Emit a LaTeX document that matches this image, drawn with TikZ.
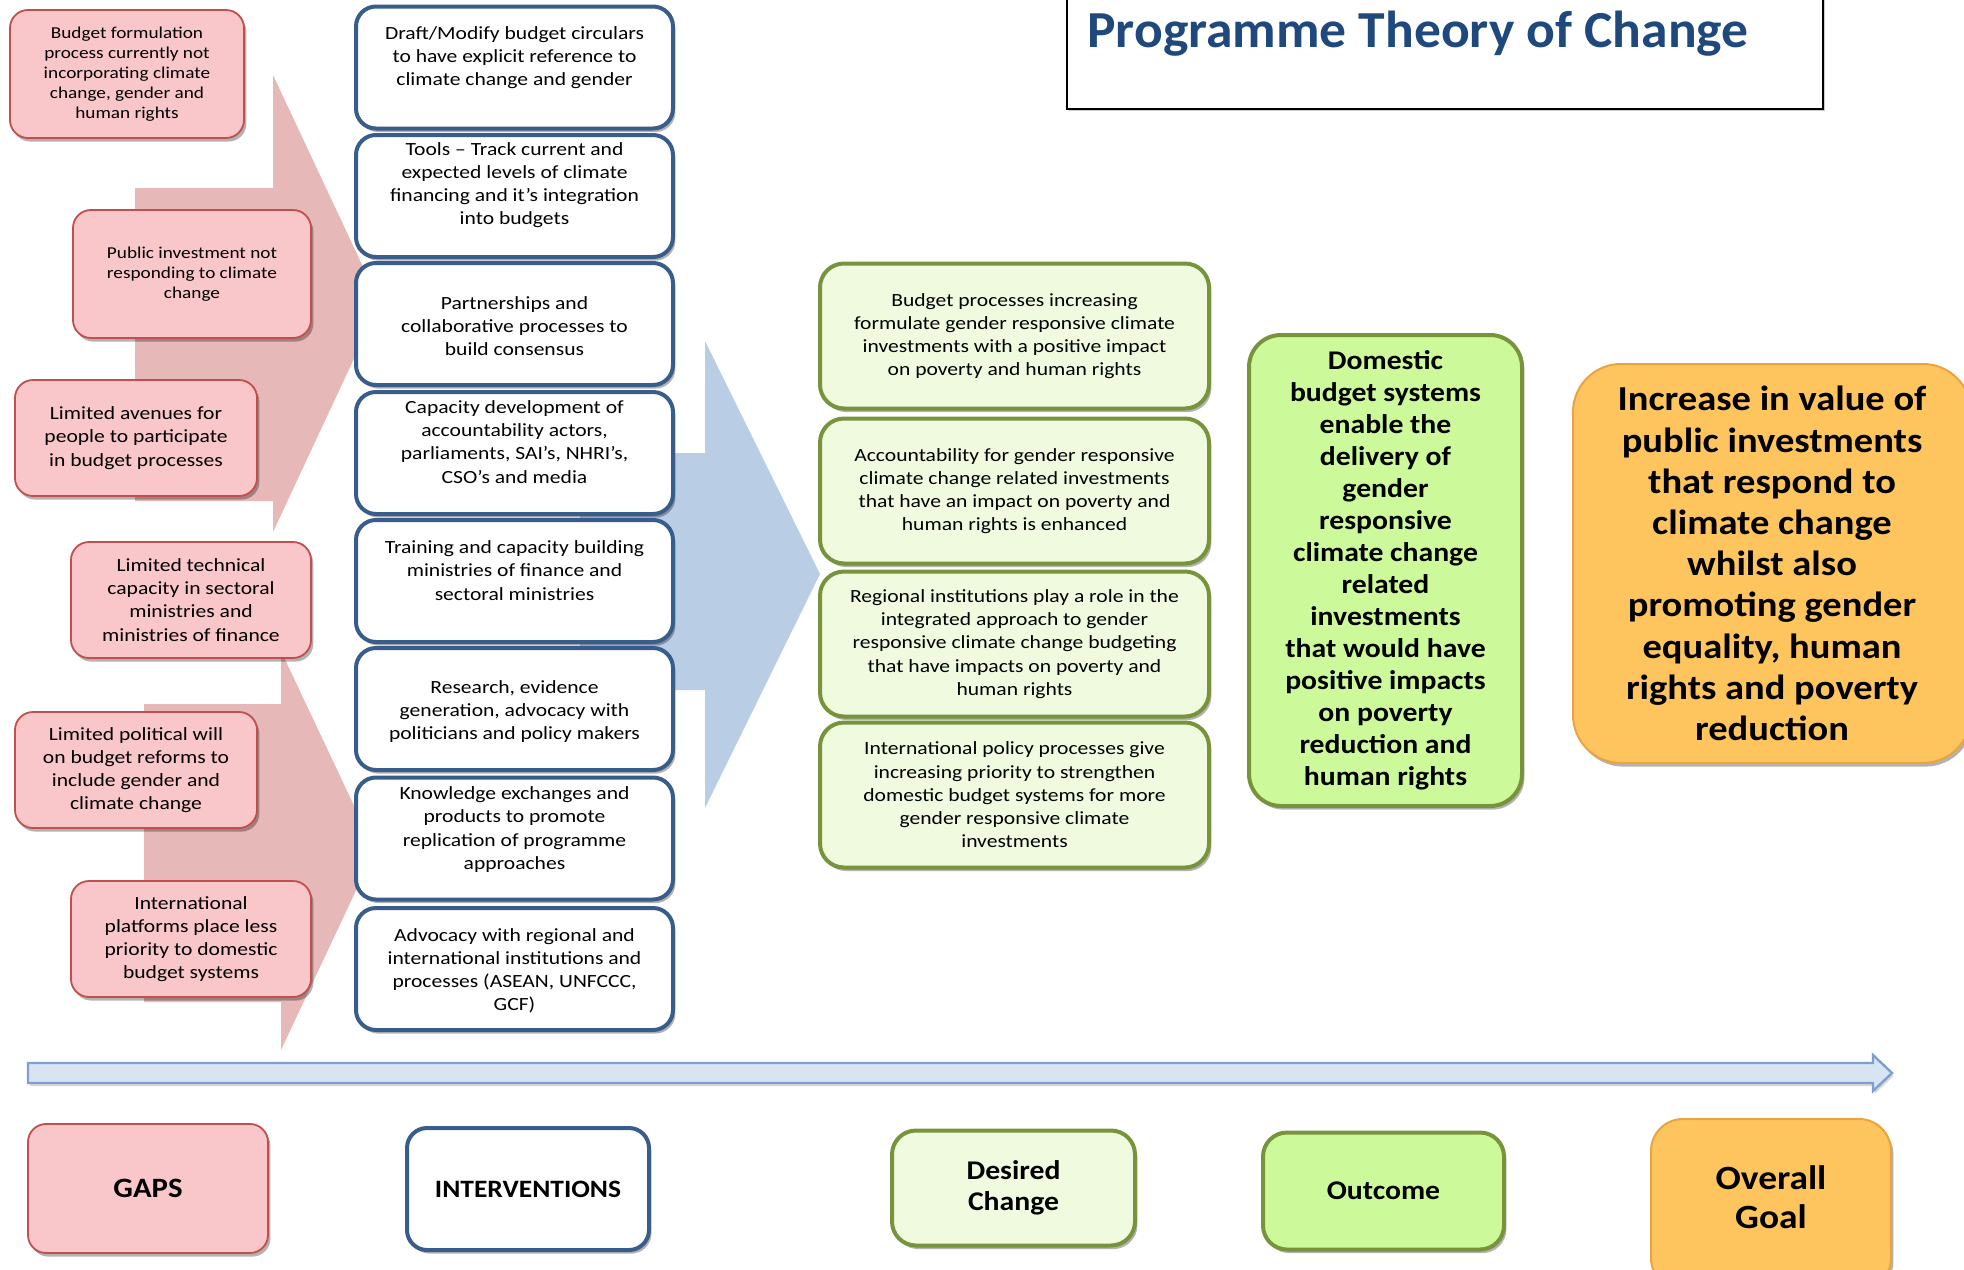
\documentclass[tikz,border=0pt]{standalone}
\usepackage{fontspec}
\setmainfont{Carlito}[FakeStretch=1.16]
\newfontfamily\headfont{Carlito}[FakeStretch=1.1]
\newfontfamily\titlefont{Carlito}[FakeStretch=1.03]
\usetikzlibrary{shadows}

\definecolor{gapfill}{HTML}{F9C6CA}
\definecolor{gapline}{HTML}{C0504D}
\definecolor{gaparrow}{HTML}{E6B8B7}
\definecolor{intline}{HTML}{385D8A}
\definecolor{bluearrow}{HTML}{B9CDE5}
\definecolor{desfill}{HTML}{F0FADF}
\definecolor{greenline}{HTML}{77933C}
\definecolor{outfill}{HTML}{CCFA9A}
\definecolor{goalfill}{HTML}{FEC55E}
\definecolor{goalline}{HTML}{E9A43F}
\definecolor{titleblue}{HTML}{1F497D}
\definecolor{timefill}{HTML}{D9E4F3}
\definecolor{timeline}{HTML}{7EA0CE}

\tikzset{
  shade/.style={drop shadow={shadow xshift=1.2pt, shadow yshift=-1.8pt, opacity=0.3, fill=black}},
  gapbox/.style={draw=gapline, fill=gapfill, line width=0.9pt, rounded corners=9pt,
    align=center, inner sep=2pt, minimum width=120pt, minimum height=58pt, shade},
  gapsmall/.style={gapbox, font=\fontsize{8.3}{10}\selectfont},
  gapbig/.style={gapbox, font=\fontsize{9.3}{11.6}\selectfont},
  intbox/.style={draw=intline, fill=white, line width=2pt, rounded corners=10pt,
    inner sep=0pt, minimum width=158.5pt, minimum height=61pt, shade},
  inttext/.style={align=center, inner sep=0pt, font=\fontsize{9.3}{11.6}\selectfont},
  desbox/.style={draw=greenline, fill=desfill, line width=2pt, rounded corners=12pt,
    align=center, inner sep=2pt, minimum width=194.5pt, minimum height=72.5pt,
    font=\fontsize{9.3}{11.6}\selectfont, shade},
  outbox/.style={draw=greenline, fill=outfill, line width=2pt, rounded corners=16pt,
    align=center, inner sep=2pt, font=\headfont\bfseries\fontsize{13.5}{16}\selectfont, shade},
  goalbox/.style={draw=goalline, fill=goalfill, line width=1pt, rounded corners=24pt,
    align=center, inner sep=2pt, font=\headfont\bfseries\fontsize{17.5}{20.6}\selectfont, shade},
  keybox/.style={align=center, inner sep=2pt, minimum width=120.5pt, minimum height=58pt},
}

\begin{document}
\begin{tikzpicture}[x=0.5pt, y=-0.5pt]
\useasboundingbox (0,0) rectangle (1964,1269);
\clip (0,0) rectangle (1964,1269);
\fill[white] (0,0) rectangle (1964,1269);

% background arrows behind the gap and intervention columns
\fill[gaparrow] (135,188) -- (273,188) -- (273,75) -- (380,303) -- (273,532)
  -- (273,501) -- (135,501) -- cycle;
\fill[gaparrow] (144,704) -- (281,704) -- (281,651) -- (375,850) -- (281,1050)
  -- (281,1002) -- (144,1002) -- cycle;
\fill[bluearrow] (580,453) -- (705,453) -- (705,341) -- (820,574) -- (705,808)
  -- (705,690) -- (580,690) -- cycle;

% title
\draw[line width=1pt, fill=white, drop shadow={shadow xshift=1pt, shadow yshift=-1pt, opacity=0.4}]
  (1067,-10) rectangle (1823,109);
\node[anchor=west, inner sep=0pt, text=titleblue,
  font=\titlefont\bfseries\fontsize{26}{30}\selectfont]
  (title) at (1087,34) {Programme Theory of Change};

% gaps
\node[gapsmall, minimum width=117pt, minimum height=64pt] (g1) at (127,74)
  {Budget formulation\\process currently not\\incorporating climate\\change, gender and\\human rights};
\node[gapsmall, minimum width=119pt, minimum height=64pt] (g2) at (192,274)
  {Public investment not\\responding to climate\\change};
\node[gapbig, minimum width=121pt] (g3) at (136,438)
  {Limited avenues for\\people to participate\\in budget processes};
\node[gapbig] (g4) at (191,600)
  {Limited technical\\capacity in sectoral\\ministries and\\ministries of finance};
\node[gapbig, minimum width=121pt] (g5) at (136,770)
  {Limited political will\\on budget reforms to\\include gender and\\climate change};
\node[gapbig] (g6) at (191,939)
  {International\\platforms place less\\priority to domestic\\budget systems};

% interventions
\node[intbox] (i1) at (514.5,67.5) {};
\node[inttext] (i1t) at (514.5,57.5)
  {Draft/Modify budget circulars\\to have explicit reference to\\climate change and gender};
\node[intbox] (i2) at (514.5,196) {};
\node[inttext] (i2t) at (514.5,185)
  {Tools -- Track current and\\expected levels of climate\\financing and it’s integration\\into budgets};
\node[intbox] (i3) at (514.5,324) {};
\node[inttext] (i3t) at (514.5,326)
  {Partnerships and\\collaborative processes to\\build consensus};
\node[intbox] (i4) at (514.5,453) {};
\node[inttext] (i4t) at (514.5,442)
  {Capacity development of\\accountability actors,\\parliaments, SAI’s, NHRI’s,\\CSO’s and media};
\node[intbox] (i5) at (514.5,581) {};
\node[inttext] (i5t) at (514.5,570.5)
  {Training and capacity building\\ministries of finance and\\sectoral ministries};
\node[intbox] (i6) at (514.5,709) {};
\node[inttext] (i6t) at (514.5,711.5)
  {Research, evidence\\generation, advocacy with\\politicians and policy makers};
\node[intbox] (i7) at (514.5,838.5) {};
\node[inttext] (i7t) at (514.5,829.5)
  {Knowledge exchanges and\\products to promote\\replication of programme\\approaches};
\node[intbox] (i8) at (514.5,969) {};
\node[inttext] (i8t) at (514.5,971)
  {Advocacy with regional and\\international institutions and\\processes (ASEAN, UNFCCC,\\GCF)};

% desired change
\node[desbox] (d1) at (1014.5,336) 
  {Budget processes increasing\\formulate gender responsive climate\\investments with a positive impact\\on poverty and human rights};
\node[desbox] (d2) at (1014.5,491)
  {Accountability for gender responsive\\climate change related investments\\that have an impact on poverty and\\human rights is enhanced};
\node[desbox] (d3) at (1014.5,644)
  {Regional institutions play a role in the\\integrated approach to gender\\responsive climate change budgeting\\that have impacts on poverty and\\human rights};
\node[desbox] (d4) at (1014.5,795)
  {International policy processes give\\increasing priority to strengthen\\domestic budget systems for more\\gender responsive climate\\investments};

% outcome
\node[outbox, minimum width=136.5pt, minimum height=235.5pt] (out) at (1385.5,570.5)
  {Domestic\\budget systems\\enable the\\delivery of\\gender\\responsive\\climate change\\related\\investments\\that would have\\positive impacts\\on poverty\\reduction and\\human rights};

% overall goal
\node[goalbox, minimum width=199pt, minimum height=199.5pt] (goal) at (1772,563.5)
  {Increase in value of\\public investments\\that respond to\\climate change\\whilst also\\promoting gender\\equality, human\\rights and poverty\\reduction};

% time line
\draw[draw=timeline, fill=timefill, line width=1.2pt,
  drop shadow={shadow xshift=0.8pt, shadow yshift=-1.5pt, opacity=0.3}]
  (28,1063) -- (1873,1063) -- (1873,1055) -- (1892,1073) -- (1873,1091)
  -- (1873,1083) -- (28,1083) -- cycle;

% key
\node[keybox, gapbox, minimum height=64.5pt, font=\headfont\bfseries\fontsize{14}{16}\selectfont] (kgap) at (148,1188.5) {GAPS};
\node[keybox, intbox, inner sep=2pt, minimum width=121pt, font=\headfont\bfseries\fontsize{12.5}{15}\selectfont] (kint) at (528,1189) {INTERVENTIONS};
\node[keybox, desbox, minimum width=121.5pt, minimum height=57.5pt, font=\headfont\bfseries\fontsize{13.5}{15.6}\selectfont] (kdes) at (1013.5,1188) {Desired\\Change};
\node[keybox, outbox, minimum width=120.5pt, minimum height=58.5pt, rounded corners=12pt, font=\headfont\bfseries\fontsize{13.5}{16}\selectfont] (kout) at (1383.5,1191) {Outcome};
\node[keybox, goalbox, minimum width=120pt, minimum height=85.5pt, rounded corners=16pt] (kgoal) at (1771,1204.5) {};
\node[inner sep=0pt, align=center, font=\headfont\bfseries\fontsize{17}{19.5}\selectfont] (kgoaltext) at (1771,1197) {Overall\\Goal};
\end{tikzpicture}
\end{document}
